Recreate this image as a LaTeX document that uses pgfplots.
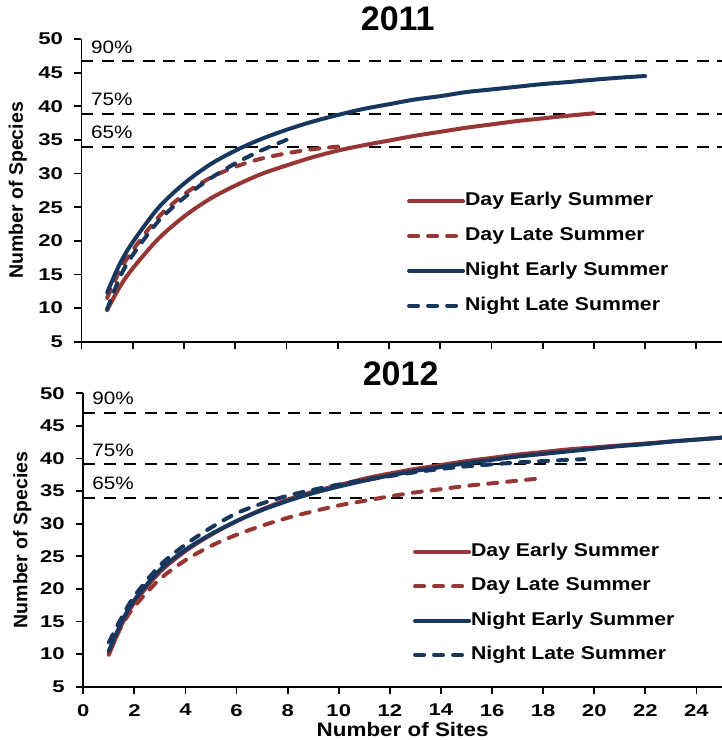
\documentclass[border=0pt]{standalone}
\usepackage{fontspec}
\setmainfont{Liberation Sans}[FakeStretch=1.15]
\newfontfamily\bsf{Liberation Sans Bold}[FakeStretch=1.15]
\newfontfamily\tsf{Liberation Sans Bold}[FakeStretch=1.3]
\newfontfamily\titlefont{Liberation Sans Bold}
\usepackage{pgfplots}
\pgfplotsset{compat=1.18}
\definecolor{dred}{RGB}{150,55,53}
\definecolor{dnavy}{RGB}{23,55,94}
\pgfplotsset{
  mystyle/.style={
    scale only axis, clip mode=individual,
    xmin=0, xmax=25, ymin=5, ymax=50,
    axis x line*=bottom, axis y line*=left,
    axis line style={-, line width=1.8pt},
    tick align=outside, major tick length=7pt,
    every tick/.style={line width=1.8pt, black},
    xtick={0,2,...,24}, ytick={5,10,...,50},
    /pgf/number format/assume math mode=true,
    ticklabel style={font=\tsf\fontsize{17}{20}\selectfont},
    yticklabel style={xshift=-8pt},
    xticklabel style={yshift=-7pt},
    ylabel={Number of Species},
    ylabel style={font=\titlefont\fontsize{19.5}{22}\selectfont, inner sep=0pt, anchor=south, rotate=0},
    title style={font=\titlefont\fontsize{34}{40}\selectfont, inner sep=0pt, anchor=base},
    legend cell align=left,
    legend image code/.code={\draw[#1] (0pt,0pt) -- (54pt,0pt);},
    legend style={draw=none, fill=none, inner sep=0pt, anchor=north west,
      font=\bsf\fontsize{18.5}{20}\selectfont,
      nodes={inner sep=0pt, text height=13pt, text depth=4pt},
      /tikz/every even column/.append style={column sep=9pt}},
    every axis plot/.append style={line width=4pt, line cap=round, smooth},
  },
  refline/.style={black, line width=2.2pt, line cap=butt, dash pattern=on 12pt off 8.5pt, forget plot, sharp plot},
  sol/.style={solid},
  dsh/.style={dash pattern=on 9pt off 10pt},
}
\newcommand{\pct}{\fontsize{18}{20}\selectfont}
\begin{document}
\begin{tikzpicture}
\path[use as bounding box] (0,0) rectangle (722pt,740pt);
% ---------------- 2011 ----------------
\begin{axis}[mystyle,
  at={(81.5pt,398.3pt)}, anchor=south west,
  width=640.5pt, height=302.7pt,
  xticklabels={},
  title={2011}, title style={at={(axis description cs:0.5,1)}, yshift=3pt, xshift=-4pt},
  ylabel style={at={(axis description cs:-0.085,0.5)}},
  legend style={at={(axis cs:12.7,27.15)}, /tikz/row sep=17.7pt},
]
\addplot[refline] coordinates {(0,46.7) (25,46.7)};
\addplot[refline] coordinates {(0,38.9) (25,38.9)};
\addplot[refline] coordinates {(0,34.0) (25,34.0)};
\addplot[dred, sol] coordinates {(1,9.7)(1.5,13.2)(2,15.9)(3,20.3)(4,23.6)(5,26.2)(6,28.2)(7,29.9)(8,31.2)(9,32.4)(10,33.4)(11,34.2)(12,34.9)(13,35.6)(14,36.2)(15,36.8)(16,37.3)(17,37.8)(18,38.2)(19,38.6)(20,38.95)};
\addlegendentry{Day Early Summer}
\addplot[dred, dsh] coordinates {(1,11.5)(1.5,15.6)(2,18.6)(3,23.5)(4,26.9)(5,29.3)(6,31.0)(7,32.2)(8,33.0)(9,33.6)(10,34.0)};
\addlegendentry{Day Late Summer}
\addplot[dnavy, sol] coordinates {(1,12.3)(1.5,16.6)(2,19.8)(3,24.9)(4,28.5)(5,31.3)(6,33.4)(7,35.1)(8,36.5)(9,37.7)(10,38.7)(11,39.6)(12,40.3)(13,41.0)(14,41.5)(15,42.1)(16,42.5)(17,42.9)(18,43.3)(19,43.6)(20,43.95)(21,44.25)(22,44.5)};
\addlegendentry{Night Early Summer}
\addplot[dnavy, dsh] coordinates {(1,9.8)(1.5,14.6)(2,17.9)(3,22.9)(4,26.4)(5,29.2)(6,31.5)(7,33.4)(8,35.0)};
\addlegendentry{Night Late Summer}
\node[anchor=base west, inner sep=0pt, font=\pct] at (axis cs:0.37,46.7) [yshift=8pt] {90\%};
\node[anchor=base west, inner sep=0pt, font=\pct] at (axis cs:0.37,38.9) [yshift=8pt] {75\%};
\node[anchor=base west, inner sep=0pt, font=\pct] at (axis cs:0.37,34.0) [yshift=8pt] {65\%};
\end{axis}
% ---------------- 2012 ----------------
\begin{axis}[mystyle,
  at={(83.3pt,53.3pt)}, anchor=south west,
  width=638.7pt, height=293.4pt,
  title={2012}, title style={at={(axis description cs:0.5,1)}, yshift=2pt, xshift=-2pt},
  ylabel style={at={(axis description cs:-0.081,0.5)}},
  xlabel={Number of Sites},
  xlabel style={font=\bsf\fontsize{19.5}{20}\selectfont, inner sep=0pt, anchor=base, at={(axis description cs:0.5,0)}, yshift=-50pt},
  legend style={at={(axis cs:12.9,27.0)}, /tikz/row sep=17.3pt},
]
\addplot[refline] coordinates {(0,47.0) (25,47.0)};
\addplot[refline] coordinates {(0,39.1) (25,39.1)};
\addplot[refline] coordinates {(0,34.0) (25,34.0)};
\addplot[dred, sol] coordinates {(1,9.9)(1.5,14.5)(2,17.9)(3,22.6)(4,25.8)(5,28.3)(6,30.4)(7,32.2)(8,33.7)(9,34.9)(10,35.9)(11,36.9)(12,37.7)(13,38.4)(14,39.0)(15,39.6)(16,40.1)(17,40.6)(18,41.0)(19,41.4)(20,41.7)(21,42.0)(22,42.3)(23,42.6)(24,42.9)(25,43.2)};
\addlegendentry{Day Early Summer}
\addplot[dred, dsh] coordinates {(1,10.2)(1.5,14.3)(2,17.3)(3,21.5)(4,24.4)(5,26.6)(6,28.3)(7,29.7)(8,30.9)(9,31.9)(10,32.8)(11,33.5)(12,34.2)(13,34.8)(14,35.3)(15,35.8)(16,36.2)(17,36.6)(18,37.0)};
\addlegendentry{Day Late Summer}
\addplot[dnavy, sol] coordinates {(1,10.5)(1.5,14.9)(2,18.3)(3,22.9)(4,26.0)(5,28.4)(6,30.4)(7,32.1)(8,33.5)(9,34.7)(10,35.7)(11,36.6)(12,37.4)(13,38.1)(14,38.7)(15,39.3)(16,39.8)(17,40.3)(18,40.7)(19,41.1)(20,41.5)(21,41.9)(22,42.2)(23,42.6)(24,42.9)(25,43.2)};
\addlegendentry{Night Early Summer}
\addplot[dnavy, dsh] coordinates {(1,11.8)(1.5,15.6)(2,18.9)(3,23.6)(4,26.8)(5,29.4)(6,31.6)(7,33.1)(8,34.3)(9,35.2)(10,36.0)(11,36.7)(12,37.3)(13,37.9)(14,38.4)(15,38.8)(16,39.1)(17,39.4)(18,39.6)(19,39.8)(19.6,39.9)};
\addlegendentry{Night Late Summer}
\node[anchor=base west, inner sep=0pt, font=\pct] at (axis cs:0.35,47.0) [yshift=8pt] {90\%};
\node[anchor=base west, inner sep=0pt, font=\pct] at (axis cs:0.35,39.1) [yshift=8pt] {75\%};
\node[anchor=base west, inner sep=0pt, font=\pct] at (axis cs:0.35,34.0) [yshift=8pt] {65\%};
\end{axis}
\end{tikzpicture}
\end{document}
